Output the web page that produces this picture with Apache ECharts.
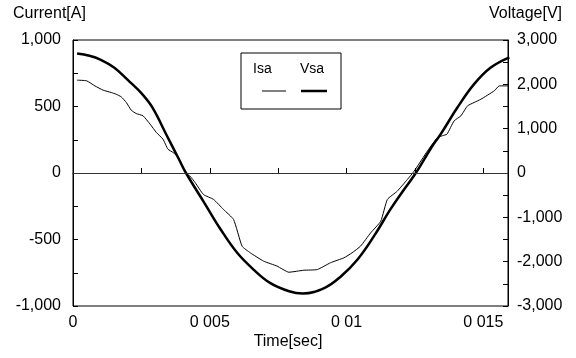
<!DOCTYPE html>
<html>
<head>
<meta charset="utf-8">
<script src="https://cdn.jsdelivr.net/npm/echarts@6/dist/echarts.min.js"></script>
<style>
html,body{margin:0;padding:0;background:#fff;}
#chart{width:576px;height:358px;}
</style>
</head>
<body>
<div id="chart"></div>
<script>
// ---- data ----
var seriesNames = ['Isa', 'Vsa'];
var axisTitles = ['Current[A]', 'Voltage[V]', 'Time[sec]'];

var xTickValues = [0, 0.005, 0.01, 0.015];
var xTickLabels = ['0', '0 005', '0 01', '0 015'];
var yLeftTickValues = [-1000, -500, 0, 500, 1000];
var yLeftTickLabels = ['-1,000', '-500', '0', '500', '1,000'];
var yRightTickValues = [-3000, -2000, -1000, 0, 1000, 2000, 3000];
var yRightTickLabels = ['-3,000', '-2,000', '-1,000', '0', '1,000', '2,000', '3,000'];

// Isa current [A]
var isaTime = [0.00015, 0.0005, 0.0008, 0.0011, 0.0014, 0.00158, 0.00176, 0.00195, 0.00213, 0.00231,
  0.00256, 0.00282, 0.00305, 0.00329, 0.00347, 0.00366, 0.00385, 0.00402, 0.00416, 0.00428,
  0.00447, 0.00477, 0.00514, 0.0055, 0.00587, 0.00618, 0.00648, 0.00697, 0.00746, 0.00789,
  0.00844, 0.00893, 0.00941, 0.0099, 0.0102, 0.01051, 0.01088, 0.01125, 0.01149, 0.01185,
  0.01222, 0.01247, 0.01296, 0.01332, 0.0135, 0.01367, 0.01393, 0.01418, 0.01442, 0.01466,
  0.01491, 0.0154, 0.01558, 0.01595];
var isaValue = [698, 693, 655, 623, 605, 592, 573, 530, 472, 447,
  430, 367, 304, 254, 179, 154, 117, 41, -9, -24,
  -74, -162, -199, -274, -350, -550, -600, -663, -700, -746,
  -731, -726, -675, -638, -600, -550, -450, -362, -199, -137,
  -49, 14, 167, 267, 280, 292, 392, 430, 505, 530,
  555, 618, 655, 655];

// Vsa voltage [V]
var vsaTime = [0.00015, 0.0006, 0.001, 0.0015, 0.002, 0.0025, 0.0029, 0.0034, 0.0039, 0.00413,
  0.0048, 0.0054, 0.006, 0.0066, 0.0072, 0.0079, 0.0084, 0.0092, 0.0098, 0.0104,
  0.011, 0.0116, 0.0121, 0.01253, 0.0131, 0.01344, 0.01405, 0.01466, 0.01527, 0.01595];
var vsaValue = [2695, 2645, 2560, 2380, 2100, 1800, 1480, 880, 276, 0,
  -672, -1275, -1800, -2178, -2478, -2667, -2718, -2589, -2328, -1950,
  -1425, -822, -372, 0, 576, 876, 1476, 2004, 2379, 2610];

// ---- build ----
function pairs(xs, ys) { return xs.map(function (x, i) { return [x, ys[i]]; }); }
function lookup(vals, labels) {
  return function (v) {
    for (var i = 0; i < vals.length; i++) {
      if (Math.abs(v - vals[i]) < 1e-9 * Math.max(1, Math.abs(vals[i])) + 1e-9) return labels[i];
    }
    return '';
  };
}
var FONT = '"Liberation Sans", Arial, sans-serif';

var chart = echarts.init(document.getElementById('chart'), null, { renderer: 'canvas' });
chart.setOption({
  animation: false,
  backgroundColor: '#fff',
  grid: { left: 73, right: 68, top: 40, bottom: 52, show: true, borderColor: '#000', borderWidth: 1, backgroundColor: 'transparent' },
  xAxis: {
    type: 'value', min: 0, max: 0.0159, interval: 0.0025,
    axisLine: { show: true, lineStyle: { color: '#000', width: 1 } },
    axisTick: { show: true, inside: true, length: 5, lineStyle: { color: '#000' } },
    axisLabel: { formatter: lookup(xTickValues, xTickLabels), color: '#000', fontSize: 16, fontFamily: FONT, margin: 9, showMaxLabel: false },
    splitLine: { show: false }
  },
  yAxis: [{
    type: 'value', position: 'left', min: -1000, max: 1000, interval: 250,
    axisLine: { show: true, lineStyle: { color: '#000', width: 1 } },
    axisTick: { show: true, inside: true, length: 5, lineStyle: { color: '#000' } },
    axisLabel: { formatter: lookup(yLeftTickValues, yLeftTickLabels), color: '#000', fontSize: 16, fontFamily: FONT, margin: 12 },
    splitLine: { show: false }
  }, {
    type: 'value', position: 'right', min: -3000, max: 3000, interval: 500,
    axisLine: { show: true, lineStyle: { color: '#000', width: 1 } },
    axisTick: { show: true, inside: true, length: 5, lineStyle: { color: '#000' } },
    axisLabel: { formatter: lookup(yRightTickValues, yRightTickLabels), color: '#000', fontSize: 16, fontFamily: FONT, margin: 9 },
    splitLine: { show: false }
  }],
  series: [{
    name: seriesNames[0], type: 'line', yAxisIndex: 0, data: pairs(isaTime, isaValue),
    showSymbol: false, smooth: 0.15, lineStyle: { color: '#000', width: 1 }, z: 3,
    markLine: {
      silent: true, symbol: 'none', label: { show: false },
      lineStyle: { color: '#333', width: 1, type: 'solid' },
      data: [{ yAxis: 0 }]
    }
  }, {
    name: seriesNames[1], type: 'line', yAxisIndex: 1, data: pairs(vsaTime, vsaValue),
    showSymbol: false, smooth: 0.4, lineStyle: { color: '#000', width: 2.5 }, z: 4
  }],
  graphic: [
    { type: 'text', left: 13, top: 6, style: { text: axisTitles[0], font: '16px ' + FONT, fill: '#000' } },
    { type: 'text', right: 14, top: 6, style: { text: axisTitles[1], font: '16px ' + FONT, fill: '#000' } },
    { type: 'text', left: 'center', top: 334, style: { text: axisTitles[2], font: '16px ' + FONT, fill: '#000' } },
    { type: 'rect', z: 10, shape: { x: 241, y: 53, width: 100, height: 56 }, style: { fill: '#fff', stroke: '#000', lineWidth: 1 } },
    { type: 'text', z: 11, left: 253, top: 62, style: { text: seriesNames[0], font: '14px ' + FONT, fill: '#000' } },
    { type: 'text', z: 11, left: 300, top: 62, style: { text: seriesNames[1], font: '14px ' + FONT, fill: '#000' } },
    { type: 'line', z: 11, shape: { x1: 262, y1: 91, x2: 286, y2: 91 }, style: { stroke: '#000', lineWidth: 1 } },
    { type: 'line', z: 11, shape: { x1: 301, y1: 91, x2: 327, y2: 91 }, style: { stroke: '#000', lineWidth: 2.5 } }
  ]
});
</script>
</body>
</html>
